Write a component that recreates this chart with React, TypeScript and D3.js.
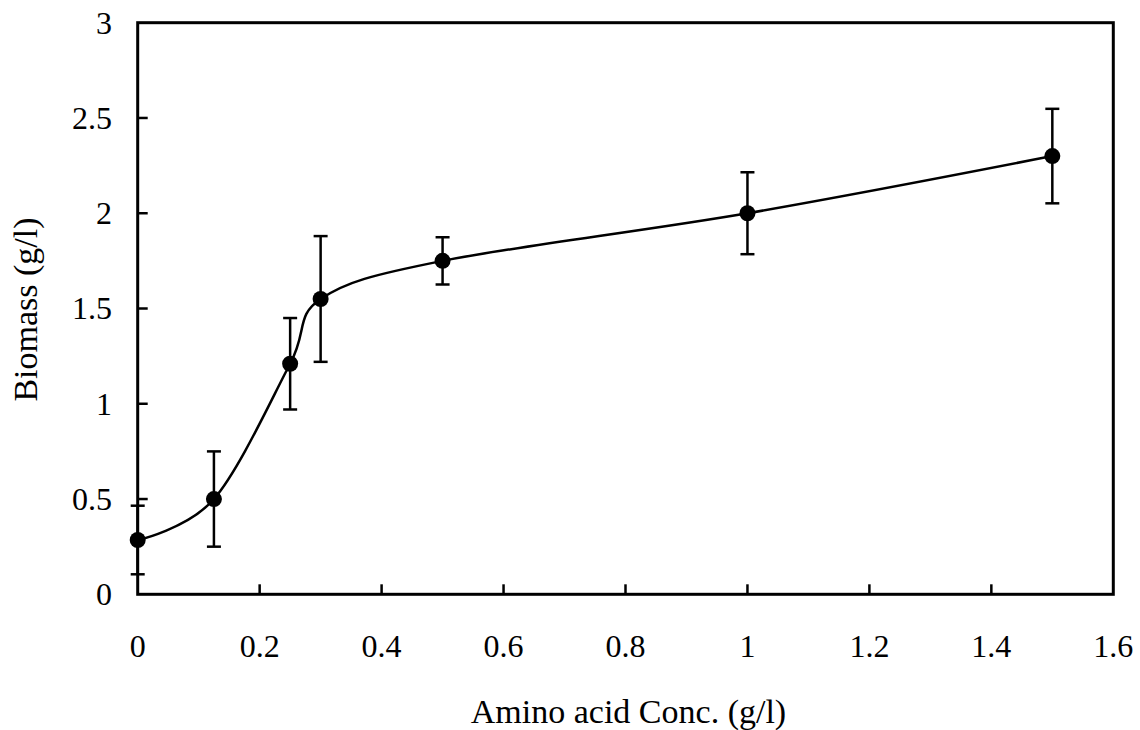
import { useEffect, useRef } from "react";
import * as d3 from "d3";

// amino acid concentration (g/l)
const conc = [0, 0.125, 0.25, 0.3, 0.5, 1, 1.5];
// biomass (g/l)
const biomass = [0.285, 0.5, 1.21, 1.55, 1.75, 2.0, 2.3];
// error (+/-)
const errors = [0.18, 0.25, 0.24, 0.33, 0.124, 0.215, 0.248];

const xTicks = [0, 0.2, 0.4, 0.6, 0.8, 1, 1.2, 1.4, 1.6];
const yTicks = [0, 0.5, 1, 1.5, 2, 2.5, 3];

const App = () => {
    const chartRef = useRef<SVGSVGElement>(null);

    useEffect(() => {
        const svg = d3.select(chartRef.current);
        svg.selectAll("*").remove();

        const left = 137.7, right = 1113.3, top = 22.7, bottom = 594.3;
        const font = "'Liberation Serif', 'Times New Roman', serif";

        const x = d3.scaleLinear().domain([0, 1.6]).range([left, right]);
        const y = d3.scaleLinear().domain([0, 3]).range([bottom, top]);

        const data = conc.map((c, i) => ({ x: c, y: biomass[i], e: errors[i] }));

        // ticks (inside)
        svg.append("g")
            .selectAll("line")
            .data(yTicks.slice(1, -1))
            .join("line")
            .attr("x1", left)
            .attr("x2", left + 10)
            .attr("y1", (d) => y(d))
            .attr("y2", (d) => y(d))
            .attr("stroke", "#000")
            .attr("stroke-width", 2.5);

        svg.append("g")
            .selectAll("line")
            .data(xTicks.slice(1, -1))
            .join("line")
            .attr("x1", (d) => x(d))
            .attr("x2", (d) => x(d))
            .attr("y1", bottom)
            .attr("y2", bottom - 10)
            .attr("stroke", "#000")
            .attr("stroke-width", 2.5);

        // tick labels
        svg.append("g")
            .selectAll("text")
            .data(yTicks)
            .join("text")
            .attr("x", 112)
            .attr("y", (d) => y(d))
            .attr("dy", "0.34em")
            .attr("text-anchor", "end")
            .attr("font-family", font)
            .attr("font-size", 32)
            .text((d) => d3.format("")(d));

        svg.append("g")
            .selectAll("text")
            .data(xTicks)
            .join("text")
            .attr("x", (d) => x(d))
            .attr("y", 657)
            .attr("text-anchor", "middle")
            .attr("font-family", font)
            .attr("font-size", 32)
            .text((d) => d3.format("")(d));

        // smoothed line
        const line = d3
            .line<{ x: number; y: number }>()
            .x((d) => x(d.x))
            .y((d) => y(d.y))
            .curve(d3.curveCardinal.tension(0));

        svg.append("path")
            .datum(data)
            .attr("d", line)
            .attr("fill", "none")
            .attr("stroke", "#000")
            .attr("stroke-width", 2.5);

        // error bars
        const bars = svg.append("g").attr("stroke", "#000").attr("stroke-width", 2.5);
        data.forEach((d) => {
            const cx = x(d.x);
            bars.append("line").attr("x1", cx).attr("x2", cx).attr("y1", y(d.y - d.e)).attr("y2", y(d.y + d.e));
            bars.append("line").attr("x1", cx - 7).attr("x2", cx + 7).attr("y1", y(d.y - d.e)).attr("y2", y(d.y - d.e));
            bars.append("line").attr("x1", cx - 7).attr("x2", cx + 7).attr("y1", y(d.y + d.e)).attr("y2", y(d.y + d.e));
        });

        // plot frame
        svg.append("rect")
            .attr("x", left)
            .attr("y", top)
            .attr("width", right - left)
            .attr("height", bottom - top)
            .attr("fill", "none")
            .attr("stroke", "#000")
            .attr("stroke-width", 3);

        // markers
        svg.append("g")
            .selectAll("circle")
            .data(data)
            .join("circle")
            .attr("cx", (d) => x(d.x))
            .attr("cy", (d) => y(d.y))
            .attr("r", 8)
            .attr("fill", "#000");

        // axis titles
        svg.append("text")
            .attr("x", (left + right) / 2 + 3)
            .attr("y", 723)
            .attr("text-anchor", "middle")
            .attr("font-family", font)
            .attr("font-size", 34)
            .text("Amino acid Conc. (g/l)");

        svg.append("text")
            .attr("transform", `translate(37,${(top + bottom) / 2 + 1}) rotate(-90)`)
            .attr("text-anchor", "middle")
            .attr("font-family", font)
            .attr("font-size", 34)
            .text("Biomass (g/l)");
    }, []);

    return (
        <svg
            ref={chartRef}
            width={1140}
            height={730}
            style={{ position: "absolute", left: 0, top: 0, background: "#fff" }}
        ></svg>
    );
};

export default App;
